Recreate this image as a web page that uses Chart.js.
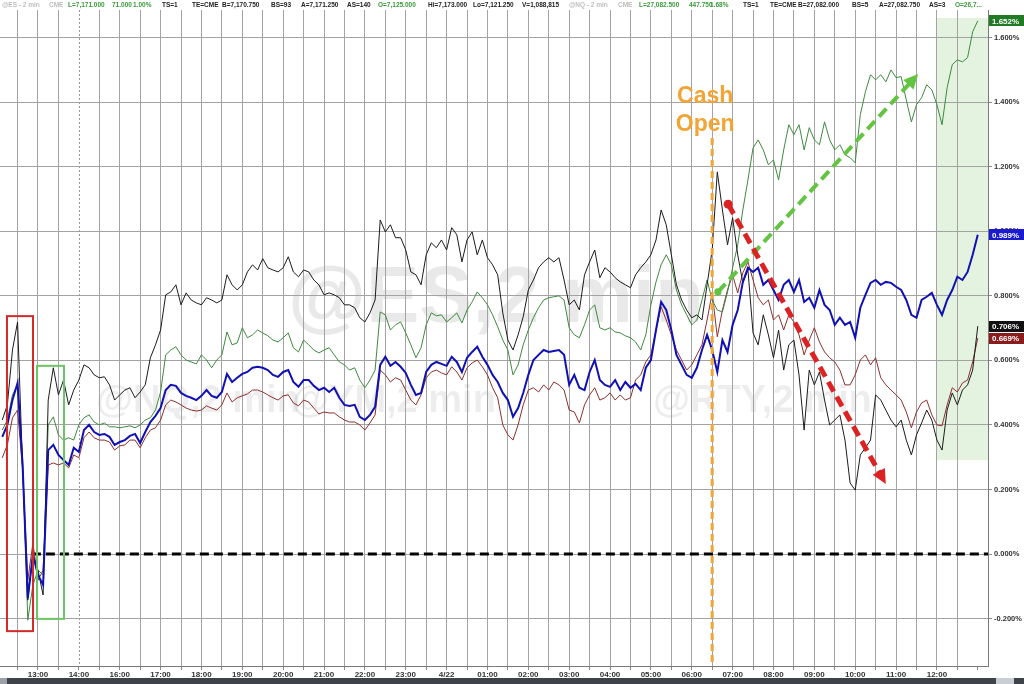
<!DOCTYPE html>
<html><head><meta charset="utf-8">
<script src="https://cdn.jsdelivr.net/npm/chart.js@4.4.1/dist/chart.umd.min.js"></script>
<style>html,body{margin:0;padding:0;background:#fff;overflow:hidden}canvas{display:block}</style>
</head><body>
<canvas id="c" width="1024" height="684"></canvas>
<script>
// Trading hours counted from 12:00 on 4/21 (15:00 break removed): 13:00 = 1 ... 12:00 on 4/22 = 23
const tradingHours = Array.from({length:192}, (_, i) => (i + 1) * 0.125);
const hourLabels = ['13:00','14:00','16:00','17:00','18:00','19:00','20:00','21:00','22:00','23:00','4/22',
  '01:00','02:00','03:00','04:00','05:00','06:00','07:00','08:00','09:00','10:00','11:00','12:00'];

// NQ (green), % change
const nqValues = [
0.384,0.415,0.493,0.524,0.291,-0.205,-0.096,-0.050,-0.065,0.400,
0.425,0.369,0.353,0.360,0.353,0.400,0.422,0.431,0.409,0.400,
0.406,0.394,0.394,0.391,0.394,0.397,0.391,0.400,0.415,0.422,
0.446,0.502,0.617,0.632,0.642,0.617,0.601,0.595,0.589,0.617,
0.601,0.577,0.601,0.617,0.688,0.648,0.654,0.701,0.670,0.679,
0.694,0.685,0.676,0.663,0.657,0.670,0.685,0.639,0.626,0.663,
0.648,0.632,0.623,0.632,0.639,0.617,0.595,0.586,0.570,0.577,
0.539,0.515,0.539,0.570,0.750,0.741,0.694,0.710,0.719,0.685,
0.648,0.608,0.639,0.710,0.747,0.738,0.741,0.719,0.732,0.747,
0.716,0.756,0.781,0.812,0.794,0.772,0.741,0.704,0.663,0.632,
0.555,0.586,0.648,0.694,0.732,0.763,0.787,0.794,0.797,0.800,
0.787,0.701,0.679,0.670,0.710,0.756,0.772,0.701,0.694,0.701,
0.688,0.685,0.676,0.670,0.657,0.632,0.679,0.772,0.843,0.896,
0.927,0.896,0.818,0.772,0.741,0.710,0.725,0.787,0.849,0.787,
0.756,0.750,0.812,0.887,0.958,1.066,1.159,1.258,1.283,1.252,
1.206,1.221,1.159,1.252,1.330,1.299,1.330,1.252,1.321,1.283,
1.268,1.339,1.283,1.252,1.268,1.237,1.228,1.212,1.361,1.432,
1.485,1.469,1.485,1.463,1.500,1.476,1.479,1.407,1.339,1.392,
1.414,1.454,1.438,1.392,1.330,1.445,1.516,1.531,1.525,1.538,
1.618,1.652];

// ES (blue)
const esValues = [
0.363,0.400,0.477,0.530,0.270,-0.136,-0.003,-0.065,-0.096,0.322,
0.338,0.307,0.291,0.276,0.329,0.316,0.384,0.400,0.378,0.369,
0.372,0.363,0.338,0.347,0.353,0.366,0.372,0.344,0.378,0.409,
0.428,0.452,0.508,0.524,0.521,0.499,0.490,0.484,0.477,0.490,
0.508,0.490,0.484,0.502,0.558,0.533,0.546,0.558,0.564,0.577,
0.580,0.577,0.570,0.555,0.549,0.564,0.570,0.533,0.518,0.539,
0.539,0.521,0.508,0.515,0.502,0.515,0.484,0.462,0.459,0.462,
0.425,0.415,0.431,0.456,0.586,0.611,0.583,0.595,0.580,0.561,
0.524,0.493,0.499,0.564,0.586,0.595,0.589,0.583,0.611,0.595,
0.564,0.608,0.626,0.642,0.611,0.586,0.555,0.533,0.499,0.477,
0.425,0.452,0.499,0.555,0.601,0.617,0.632,0.626,0.629,0.632,
0.617,0.524,0.555,0.515,0.508,0.564,0.601,0.539,0.524,0.518,
0.539,0.508,0.533,0.515,0.527,0.508,0.577,0.601,0.694,0.781,
0.756,0.694,0.617,0.586,0.555,0.546,0.577,0.632,0.679,0.632,
0.564,0.663,0.626,0.710,0.756,0.843,0.887,0.874,0.887,0.834,
0.849,0.818,0.787,0.834,0.849,0.812,0.849,0.781,0.794,0.763,
0.818,0.772,0.756,0.710,0.732,0.710,0.719,0.670,0.763,0.803,
0.840,0.849,0.834,0.843,0.840,0.828,0.818,0.787,0.741,0.732,
0.787,0.797,0.809,0.772,0.741,0.787,0.818,0.859,0.849,0.874,
0.927,0.989];

// RTY (black)
const rtyValues = [
0.415,0.462,0.632,0.719,0.260,-0.143,-0.003,-0.050,-0.127,0.477,
0.577,0.493,0.539,0.462,0.508,0.539,0.586,0.577,0.555,0.546,
0.549,0.524,0.477,0.493,0.508,0.515,0.484,0.502,0.524,0.608,
0.648,0.694,0.803,0.812,0.834,0.772,0.809,0.787,0.778,0.772,
0.794,0.787,0.778,0.787,0.865,0.834,0.818,0.834,0.874,0.896,
0.880,0.915,0.887,0.880,0.874,0.887,0.921,0.874,0.859,0.880,
0.874,0.849,0.834,0.803,0.809,0.803,0.794,0.772,0.772,0.763,
0.732,0.719,0.747,0.787,1.035,0.998,1.020,0.980,0.980,0.942,
0.874,0.865,0.834,0.927,0.964,0.949,0.973,0.942,1.011,0.989,
0.905,0.973,0.998,0.927,0.973,0.918,0.896,0.865,0.747,0.663,
0.632,0.679,0.735,0.818,0.849,0.887,0.905,0.918,0.905,0.918,
0.849,0.772,0.787,0.756,0.865,0.905,0.942,0.856,0.887,0.874,
0.856,0.843,0.834,0.825,0.865,0.887,0.905,0.927,0.973,1.066,
1.020,0.927,0.834,0.787,0.756,0.732,0.741,0.725,0.834,0.942,
1.184,1.066,0.958,1.042,0.927,0.840,0.880,0.685,0.648,0.741,
0.679,0.608,0.694,0.570,0.648,0.663,0.555,0.384,0.570,0.524,
0.564,0.477,0.400,0.415,0.431,0.353,0.220,0.198,0.307,0.329,
0.353,0.493,0.477,0.446,0.415,0.394,0.415,0.353,0.307,0.369,
0.406,0.446,0.415,0.353,0.322,0.446,0.499,0.462,0.508,0.524,
0.570,0.706];

// YM (dark red)
const ymValues = [
0.298,0.338,0.422,0.446,0.260,-0.081,0.034,-0.081,-0.050,0.276,
0.282,0.276,0.282,0.267,0.307,0.298,0.360,0.378,0.360,0.353,
0.353,0.347,0.322,0.335,0.338,0.353,0.353,0.329,0.360,0.384,
0.391,0.415,0.462,0.477,0.471,0.462,0.452,0.446,0.443,0.446,
0.459,0.452,0.446,0.462,0.499,0.471,0.484,0.490,0.496,0.508,
0.508,0.502,0.493,0.484,0.477,0.490,0.493,0.468,0.459,0.477,
0.471,0.452,0.434,0.440,0.437,0.437,0.425,0.415,0.409,0.409,
0.400,0.384,0.406,0.431,0.570,0.555,0.533,0.546,0.539,0.508,
0.477,0.462,0.493,0.546,0.564,0.570,0.561,0.555,0.580,0.564,
0.539,0.577,0.592,0.601,0.580,0.555,0.515,0.484,0.400,0.369,
0.353,0.400,0.462,0.508,0.515,0.502,0.524,0.508,0.533,0.524,
0.508,0.446,0.440,0.406,0.462,0.493,0.515,0.477,0.484,0.499,
0.477,0.493,0.477,0.484,0.539,0.555,0.595,0.617,0.694,0.766,
0.725,0.679,0.632,0.601,0.570,0.586,0.617,0.648,0.725,0.809,
0.673,0.756,0.818,0.865,0.809,0.871,0.905,0.849,0.794,0.772,
0.787,0.725,0.741,0.694,0.741,0.719,0.679,0.617,0.663,0.701,
0.657,0.626,0.608,0.595,0.570,0.524,0.524,0.555,0.601,0.617,
0.586,0.608,0.546,0.524,0.508,0.493,0.477,0.440,0.391,0.440,
0.468,0.477,0.431,0.400,0.397,0.462,0.515,0.502,0.530,0.539,
0.595,0.669];

const seriesNames = ['YM', 'NQ', 'RTY', 'ES'];
const seriesColors = ['#8e2f2f', '#3f8a3f', '#1c1c1c', '#1010b4'];
const labelBoxColors = ['#8b1c1c', '#1f7a24', '#111111', '#1a1ad0'];

// Annotations (data units: trading hours / %)
const cashOpenTime = 17.5;
const sessionBreakTime = 2;
const redBox = {t0: 0.241, t1: 0.878, v0: -0.239, v1: 0.737};
const greenBox = {t0: 0.976, t1: 1.636, v0: -0.201, v1: 0.583};
const shadeZone = {t0: 23, v0: 0.291, v1: 1.661};
const greenArrow = {t0: 17.64, v0: 0.812, t1: 22.54, v1: 1.487};
const redArrow = {t0: 17.89, v0: 1.084, t1: 21.75, v1: 0.217};
const zeroLineStart = 0.85;

const GREY = '#bdbdbd', GRN = '#3a9a3a', BLK = '#222';
const headerItems = [
 ['@ES - 2 min', 2, GREY], ['CME', 49, GREY], ['L=7,171.000', 68, GRN], ['71.000', 112, GRN], ['1.00%', 133, GRN],
 ['TS=1', 162, BLK], ['TE=CME', 192, BLK], ['B=7,170.750', 222, BLK], ['BS=93', 271, BLK], ['A=7,171.250', 301, BLK],
 ['AS=140', 347, BLK], ['O=7,125.000', 378, GRN], ['Hi=7,173.000', 428, BLK], ['Lo=7,121.250', 473, BLK],
 ['V=1,088,815', 522, BLK], ['@NQ - 2 min', 569, GREY], ['CME', 618, GREY], ['L=27,082.500', 639, GRN],
 ['447.750', 689, GRN], ['1.68%', 710, GRN], ['TS=1', 743, BLK], ['TE=CME', 770, BLK], ['B=27,082.000', 798, BLK],
 ['BS=5', 852, BLK], ['A=27,082.750', 879, BLK], ['AS=3', 929, BLK], ['O=26,7...', 955, GRN]
];

const FONT = '"Liberation Sans", Arial, sans-serif';
const seriesValues = [ymValues, nqValues, rtyValues, esValues];

const datasets = seriesValues.map((vals, k) => ({
  label: seriesNames[k],
  data: tradingHours.map((t, i) => ({x: t, y: vals[i]})),
  borderColor: seriesColors[k],
  borderWidth: seriesNames[k] === 'ES' ? 2 : 1,
  pointRadius: 0,
  fill: false,
  tension: 0,
  order: 4 - k
}));

function P(chart, t, v) {
  return [chart.scales.x.getPixelForValue(t), chart.scales.y.getPixelForValue(v)];
}

function arrow(ctx, x0, y0, x1, y1, color, w) {
  const ang = Math.atan2(y1 - y0, x1 - x0);
  const head = 16;
  const xe = x1 - Math.cos(ang) * head * 0.8, ye = y1 - Math.sin(ang) * head * 0.8;
  ctx.save();
  ctx.strokeStyle = color; ctx.fillStyle = color; ctx.lineWidth = w;
  ctx.setLineDash([11, 6]);
  ctx.beginPath(); ctx.moveTo(x0, y0); ctx.lineTo(xe, ye); ctx.stroke();
  ctx.setLineDash([]);
  ctx.beginPath(); ctx.arc(x0, y0, w * 0.9, 0, Math.PI * 2); ctx.fill();
  ctx.beginPath();
  ctx.moveTo(x1, y1);
  ctx.lineTo(x1 - Math.cos(ang - 0.45) * head, y1 - Math.sin(ang - 0.45) * head);
  ctx.lineTo(x1 - Math.cos(ang + 0.45) * head, y1 - Math.sin(ang + 0.45) * head);
  ctx.closePath(); ctx.fill();
  ctx.restore();
}

const backdrop = {
  id: 'backdrop',
  beforeDraw(chart) {
    const ctx = chart.ctx, a = chart.chartArea;
    ctx.save();
    ctx.fillStyle = '#fff'; ctx.fillRect(0, 0, chart.width, chart.height);
    const [sx, sy0] = P(chart, shadeZone.t0, shadeZone.v1);
    const [, sy1] = P(chart, shadeZone.t0, shadeZone.v0);
    ctx.fillStyle = '#e3f3df';
    ctx.fillRect(sx, sy0, a.right - sx, sy1 - sy0);
    ctx.fillStyle = 'rgba(0,0,0,0.085)';
    ctx.textBaseline = 'middle';
    ctx.font = 'bold 80px ' + FONT;
    ctx.fillText('@ES,2 min', 288, 300);
    ctx.font = 'bold 38px ' + FONT;
    ctx.fillStyle = 'rgba(0,0,0,0.07)';
    ctx.fillText('@NQ,2 min', 96, 402);
    ctx.fillText('@YM,2 min', 292, 402);
    ctx.fillText('@RTY,2 min', 653, 402);
    ctx.restore();
  }
};

const overlay = {
  id: 'overlay',
  beforeDatasetsDraw(chart) {
    const ctx = chart.ctx, a = chart.chartArea;
    ctx.save();
    const bx = Math.round(chart.scales.x.getPixelForValue(sessionBreakTime)) + 0.5;
    ctx.strokeStyle = '#9a9a9a'; ctx.lineWidth = 1; ctx.setLineDash([2, 2]);
    ctx.beginPath(); ctx.moveTo(bx, a.top); ctx.lineTo(bx, a.bottom); ctx.stroke();
    const [zx, zy] = P(chart, zeroLineStart, 0);
    ctx.strokeStyle = '#000'; ctx.lineWidth = 3; ctx.setLineDash([9, 5]);
    ctx.beginPath(); ctx.moveTo(zx, zy); ctx.lineTo(a.right, zy); ctx.stroke();
    ctx.restore();
  },
  afterDatasetsDraw(chart) {
    const ctx = chart.ctx, a = chart.chartArea;
    ctx.save();
    ctx.lineWidth = 2;
    let [x0, y0] = P(chart, redBox.t0, redBox.v1), [x1, y1] = P(chart, redBox.t1, redBox.v0);
    ctx.strokeStyle = '#d22a2a'; ctx.strokeRect(x0, y0, x1 - x0, y1 - y0);
    [x0, y0] = P(chart, greenBox.t0, greenBox.v1); [x1, y1] = P(chart, greenBox.t1, greenBox.v0);
    ctx.strokeStyle = '#6cc462'; ctx.strokeRect(x0, y0, x1 - x0, y1 - y0);
    const cx = chart.scales.x.getPixelForValue(cashOpenTime);
    ctx.strokeStyle = '#f2a435'; ctx.lineWidth = 3; ctx.setLineDash([7, 4]);
    ctx.beginPath(); ctx.moveTo(cx, 138); ctx.lineTo(cx, a.bottom); ctx.stroke();
    ctx.setLineDash([]);
    ctx.fillStyle = '#f2a435'; ctx.font = 'bold 23px ' + FONT;
    ctx.textAlign = 'center'; ctx.textBaseline = 'middle';
    ctx.fillText('Cash', cx - 7, 97);
    ctx.fillText('Open', cx - 7, 125);
    ctx.restore();
    let p = P(chart, greenArrow.t0, greenArrow.v0), q = P(chart, greenArrow.t1, greenArrow.v1);
    arrow(ctx, p[0], p[1], q[0], q[1], '#62c441', 4);
    p = P(chart, redArrow.t0, redArrow.v0); q = P(chart, redArrow.t1, redArrow.v1);
    arrow(ctx, p[0], p[1], q[0], q[1], '#dc2222', 5);
  },
  afterDraw(chart) {
    const ctx = chart.ctx, a = chart.chartArea;
    ctx.save();
    ctx.font = 'bold 6.5px ' + FONT; ctx.textBaseline = 'middle'; ctx.textAlign = 'left';
    headerItems.forEach(([txt, x, col]) => { ctx.fillStyle = col; ctx.fillText(txt, x, 5); });
    ctx.font = 'bold 8px ' + FONT;
    chart.data.datasets.forEach((ds, k) => {
      const last = ds.data[ds.data.length - 1].y;
      const y = chart.scales.y.getPixelForValue(last);
      ctx.fillStyle = labelBoxColors[k];
      ctx.fillRect(a.right + 1, Math.round(y - 5.5), chart.width - a.right - 1, 11);
      ctx.fillStyle = '#fff';
      ctx.fillText(last.toFixed(3) + '%', a.right + 4, y + 0.5);
    });
    ctx.fillStyle = '#3d4349'; ctx.fillRect(0, 678, chart.width, 6);
    ctx.fillStyle = '#9aa1a8'; ctx.fillRect(0, 678, 7, 6);
    ctx.fillStyle = '#c9ced3'; ctx.fillRect(996, 678, 18, 6);
    ctx.restore();
  }
};

new Chart(document.getElementById('c'), {
  type: 'line',
  data: {datasets},
  plugins: [backdrop, overlay],
  options: {
    responsive: false, animation: false, devicePixelRatio: 1,
    layout: {padding: {top: 10, left: 0, right: 0, bottom: 0}},
    plugins: {legend: {display: false}, tooltip: {enabled: false}},
    scales: {
      x: {
        type: 'linear', min: 0.07, max: 24.25,
        afterFit(s) { s.height = 18; },
        ticks: {
          stepSize: 0.5, includeBounds: false, autoSkip: false, maxRotation: 0, minRotation: 0, padding: 0,
          color: '#333', font: {family: FONT, size: 8, weight: 'bold'},
          callback(v) {
            const r = Math.round(v);
            return Math.abs(v - r) < 1e-6 && r >= 1 && r <= hourLabels.length ? hourLabels[r - 1] : '';
          }
        },
        grid: {
          color(c) {
            const v = c.tick ? c.tick.value : null;
            return (v === sessionBreakTime || v >= 24) ? 'rgba(0,0,0,0)' : '#a3a3a3';
          },
          lineWidth: 1, tickLength: 4, tickColor: '#8a8a8a'
        },
        border: {color: '#7a7a7a', width: 1}
      },
      y: {
        position: 'right', min: -0.347, max: 1.6855,
        afterFit(s) { s.width = 36; },
        ticks: {
          stepSize: 0.2, includeBounds: false, padding: 2,
          color: '#333', font: {family: FONT, size: 7.5, weight: 'bold'},
          callback(v) { return (Math.round(v * 1000) / 1000).toFixed(3) + '%'; }
        },
        grid: {color: '#a3a3a3', lineWidth: 1, tickLength: 4, tickColor: '#8a8a8a'},
        border: {color: '#7a7a7a', width: 1}
      }
    }
  }
});
</script>
</body></html>
